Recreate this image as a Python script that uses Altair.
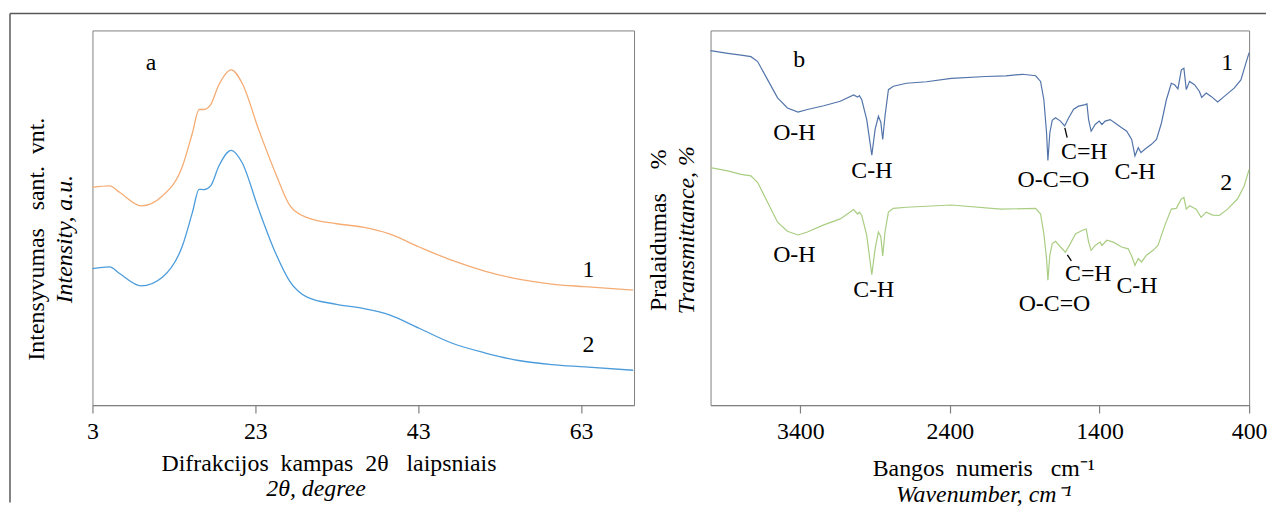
import altair as alt
import pandas as pd

FONT = "Liberation Serif"
FS = 24
SP = "\u00a0"

# ---------------- XRD (panel a) ----------------
xrd_angle = [3.0, 5.11, 6.33, 8.98, 11.62, 14.06, 15.28, 16.09, 16.70, 17.51, 18.52, 20.04,
             21.38, 23.40, 25.44, 27.27, 29.30, 32.96, 36.21, 39.46, 43.12, 47.18, 51.26,
             55.32, 59.38, 63.45, 69.4]
xrd_sample1 = [58.1, 58.5, 56.8, 53.2, 55.9, 63.8, 72.7, 78.9, 78.9, 80.2, 85.5, 89.5,
               85.9, 73.6, 62.1, 53.2, 50.1, 48.4, 47.5, 45.7, 42.2, 38.6, 35.7,
               33.6, 32.3, 31.6, 30.7]
xrd_sample2 = [36.4, 36.9, 35.1, 31.8, 34.2, 42.6, 51.5, 57.6, 57.5, 58.5, 63.8, 68.0,
               64.7, 52.3, 40.8, 32.9, 28.9, 26.9, 25.8, 24.1, 20.5, 16.5, 13.9,
               11.9, 10.8, 10.2, 9.3]
xrd_ticks = [3, 23, 43, 63]
xrd_labels = ["a", "1", "2"]
xrd_label_x = [10.2, 63.9, 63.9]
xrd_label_y = [91.2, 36.1, 15.9]

# ---------------- FTIR (panel b) ----------------
ftir1_wn = [4000, 3885, 3796, 3730, 3685, 3618, 3552, 3486, 3415, 3353, 3243, 3133, 3044, 3017,
            3005, 2989, 2956, 2922, 2900, 2878, 2862, 2849, 2834, 2811, 2778, 2690, 2557, 2391,
            2159, 2026, 1915, 1827, 1794, 1772, 1754, 1745, 1732, 1716, 1694, 1661, 1633, 1606,
            1573, 1540, 1495, 1484, 1473, 1456, 1429, 1402, 1384, 1362, 1329, 1296, 1252, 1218,
            1185, 1163, 1141, 1123, 1097, 1053, 1019, 986, 953, 920, 898, 876, 853, 836, 820,
            798, 765, 732, 717, 687, 654, 610, 566, 500, 455, 422, 400]
ftir1_t = [94.6, 93.9, 93.4, 93.0, 91.7, 86.8, 82.0, 79.3, 78.2, 78.9, 79.9, 81.1, 82.8, 82.2,
           82.6, 81.5, 76.2, 66.7, 73.6, 77.1, 75.5, 70.9, 77.1, 84.2, 85.1, 85.9, 86.3, 87.2,
           87.7, 87.9, 88.3, 87.9, 86.4, 81.5, 72.7, 65.3, 72.7, 76.0, 76.7, 75.8, 74.5, 76.7,
           79.0, 79.8, 80.2, 80.4, 76.2, 73.1, 74.9, 75.8, 74.9, 75.8, 76.2, 75.3, 74.0, 73.1,
           70.9, 66.5, 68.7, 67.4, 68.3, 69.6, 70.9, 75.3, 81.5, 85.9, 85.5, 84.4, 89.5, 89.9, 84.2,
           86.4, 85.5, 83.7, 82.1, 83.3, 82.4, 80.9, 82.4, 84.6, 86.8, 91.2, 94.1]

ftir2_wn = [4000, 3885, 3796, 3730, 3685, 3618, 3552, 3486, 3415, 3353, 3243, 3133, 3044, 3017,
            3005, 2989, 2956, 2922, 2900, 2878, 2862, 2849, 2834, 2811, 2778, 2690, 2391, 2059,
            1827, 1794, 1772, 1754, 1745, 1732, 1716, 1694, 1661, 1628, 1595, 1561, 1517, 1489,
            1473, 1456, 1429, 1396, 1384, 1351, 1307, 1252, 1208, 1185, 1163, 1141, 1119, 1086,
            1042, 1009, 964, 920, 887, 853, 836, 820, 798, 754, 721, 687, 643, 599, 544, 478,
            433, 400]
ftir2_t = [63.4, 62.5, 61.6, 61.2, 59.4, 54.1, 48.8, 46.4, 45.4, 46.2, 48.1, 49.7, 52.2, 51.0,
           51.5, 50.6, 45.3, 34.8, 41.7, 46.2, 45.0, 39.8, 46.2, 51.5, 52.5, 52.8, 53.4, 52.3,
           52.5, 51.0, 45.7, 39.1, 33.3, 40.0, 43.1, 43.7, 42.2, 40.8, 43.1, 45.7, 46.6, 47.0,
           43.5, 41.3, 42.6, 43.5, 42.6, 44.0, 43.5, 42.2, 41.7, 39.8, 37.3, 39.1, 38.2, 40.0,
           41.3, 42.6, 47.9, 52.3, 52.5, 55.0, 55.4, 52.3, 53.2, 52.3, 50.1, 51.5, 50.7, 50.6,
           52.3, 55.0, 58.5, 62.9]
ftir_ticks = [3400, 2400, 1400, 400]

ftir_labels = ["b", "1", "2",
               "O-H", "C-H", "O-C=O", "C=H", "C-H",
               "O-H", "C-H", "O-C=O", "C=H", "C-H"]
ftir_label_wn = [3407, 546, 553,
                 3440, 2922, 1708, 1502, 1163,
                 3440, 2909, 1701, 1475, 1150]
ftir_label_t = [92.0, 91.2, 59.4,
                72.7, 62.6, 60.2, 67.6, 62.1,
                40.1, 30.8, 26.9, 35.0, 31.8]
# small leader strokes next to the C=H labels
lead_wn = [1632, 1615]
lead_wn2 = [1616, 1588]
lead_t = [74.0, 40.1]
lead_t2 = [71.4, 38.5]

ORANGE = "#F5AC74"
BLUE_L = "#4C9CDB"
BLUE_R = "#5274AA"
GREEN = "#A9CD82"
GRAY = "#808080"

one = pd.DataFrame({"k": [0]})


def txt(s, x, y, italic=False, angle=0, baseline="alphabetic"):
    kw = dict(font=FONT, fontSize=FS, color="black", align="center", baseline=baseline)
    if italic:
        kw["fontStyle"] = "italic"
    if angle:
        kw["angle"] = angle
    return alt.Chart(one).mark_text(**kw).encode(
        x=alt.value(x), y=alt.value(y), text=alt.value(s))


yscale = alt.Scale(domain=[0, 100], nice=False, zero=False)

# ---------- left panel ----------
xrd_df = pd.concat([
    pd.DataFrame({"x": xrd_angle, "y": xrd_sample1, "s": "x1"}),
    pd.DataFrame({"x": xrd_angle, "y": xrd_sample2, "s": "x2"}),
])
xscale_l = alt.Scale(domain=[3, 69.5], nice=False, zero=False)

left_lines = alt.Chart(xrd_df).mark_line(strokeWidth=1.3, interpolate="monotone").encode(
    x=alt.X("x:Q", scale=xscale_l,
            axis=alt.Axis(values=xrd_ticks, title=None, labelFlush=False, grid=False)),
    y=alt.Y("y:Q", scale=yscale, axis=None),
    color=alt.Color("s:N", scale=alt.Scale(domain=["x1", "x2"], range=[ORANGE, BLUE_L]), legend=None),
)
left_lab = alt.Chart(pd.DataFrame({"x": xrd_label_x, "y": xrd_label_y, "t": xrd_labels})).mark_text(
    font=FONT, fontSize=FS, color="black", align="center", baseline="middle").encode(
    x=alt.X("x:Q", scale=xscale_l), y=alt.Y("y:Q", scale=yscale), text="t:N")

frame_left = alt.Chart(one).mark_rule(color="#595959", strokeWidth=1.5).encode(
    x=alt.value(-83), y=alt.value(-17), y2=alt.value(475))
frame_top = alt.Chart(one).mark_rule(color="#595959", strokeWidth=1.5).encode(
    x=alt.value(-83), x2=alt.value(1181), y=alt.value(-17))

left = alt.layer(
    left_lines, left_lab,
    txt("Intensyvumas" + SP * 3 + "sant." + SP * 2 + "vnt.", -49, 210, angle=270),
    txt("Intensity, a.u.", -21, 210, italic=True, angle=270),
    txt("Difrakcijos" + SP * 2 + "kampas" + SP * 2 + "2θ" + SP * 3 + "laipsniais", 238, 443),
    txt("2θ, degree", 225, 469, italic=True),
    frame_left, frame_top,
).properties(width=545, height=377)

# ---------- right panel ----------
ftir_df = pd.concat([
    pd.DataFrame({"w": ftir1_wn, "t": ftir1_t, "s": "f1"}),
    pd.DataFrame({"w": ftir2_wn, "t": ftir2_t, "s": "f2"}),
])
xscale_r = alt.Scale(domain=[400, 4000], reverse=True, nice=False, zero=False)

right_lines = alt.Chart(ftir_df).mark_line(strokeWidth=1.2).encode(
    x=alt.X("w:Q", scale=xscale_r,
            axis=alt.Axis(values=ftir_ticks, title=None, labelFlush=False, grid=False, format="d")),
    y=alt.Y("t:Q", scale=yscale, axis=None),
    color=alt.Color("s:N", scale=alt.Scale(domain=["f1", "f2"], range=[BLUE_R, GREEN]), legend=None),
    order=alt.Order("w:Q", sort="descending"),
)
right_lab = alt.Chart(pd.DataFrame({"w": ftir_label_wn, "t": ftir_label_t, "l": ftir_labels})).mark_text(
    font=FONT, fontSize=FS, color="black", align="center", baseline="middle").encode(
    x=alt.X("w:Q", scale=xscale_r), y=alt.Y("t:Q", scale=yscale), text="l:N")
leads = alt.Chart(pd.DataFrame({"w": lead_wn, "w2": lead_wn2, "t": lead_t, "t2": lead_t2})).mark_rule(
    color="black", strokeWidth=1.3).encode(
    x=alt.X("w:Q", scale=xscale_r), x2="w2:Q", y=alt.Y("t:Q", scale=yscale), y2="t2:Q")

right = alt.layer(
    right_lines, right_lab, leads,
    txt("Pralaidumas" + SP * 4 + "%", -45, 201, angle=270),
    txt("Transmittance, %", -17, 201, italic=True, angle=270),
    txt("Bangos" + SP * 2 + "numeris" + SP * 3 + "cm⁻¹", 275, 448),
    txt("Wavenumber, cm⁻¹", 275, 475, italic=True),
).properties(width=542, height=377)

chart = alt.hconcat(left, right, spacing=77, bounds="flush").resolve_scale(
    color="independent", x="independent", y="independent"
).properties(
    padding={"left": 0, "top": 2, "right": 0, "bottom": 0}
).configure_view(stroke=GRAY, strokeWidth=1).configure_axis(
    labelFont=FONT, labelFontSize=FS, labelColor="black", labelPadding=7,
    tickColor=GRAY, domainColor=GRAY, tickSize=8, domainWidth=1.2, tickWidth=1.2,
)

chart.save("out.html", embed_options={"renderer": "svg", "actions": False})
